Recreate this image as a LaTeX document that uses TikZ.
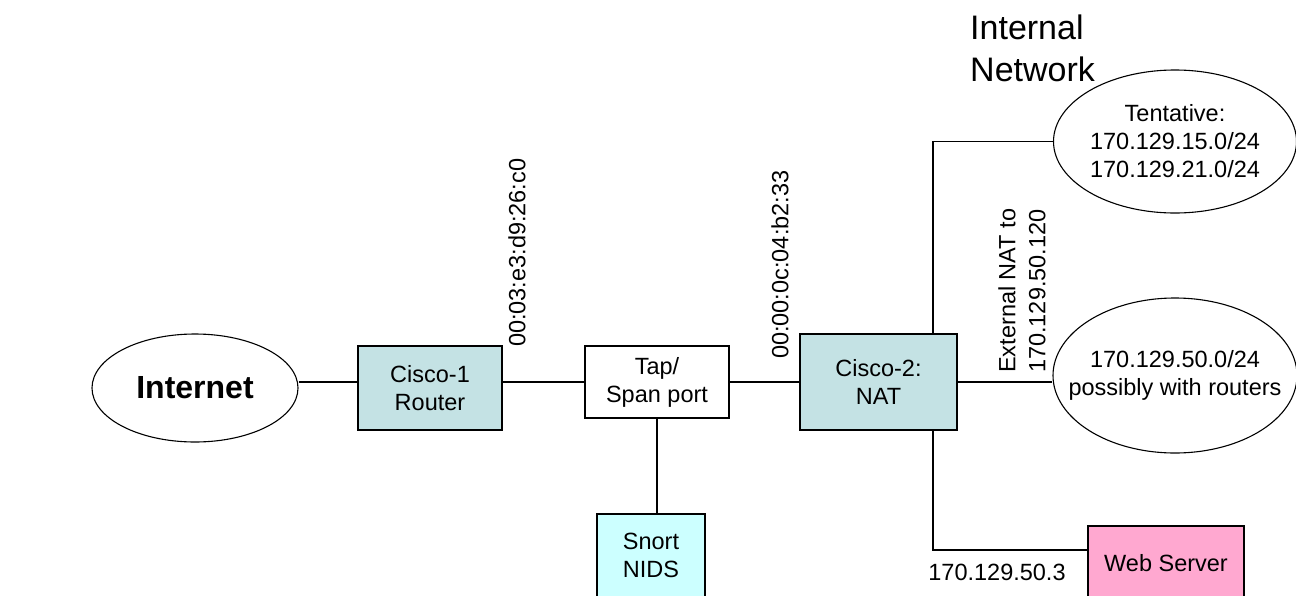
\documentclass[tikz,border=0pt]{standalone}
\usepackage{fontspec}
\setmainfont{Liberation Sans}
\usetikzlibrary{shapes.geometric}
\definecolor{ciscofill}{RGB}{196,226,228}
\definecolor{snortfill}{RGB}{204,255,255}
\definecolor{webfill}{RGB}{255,168,208}
\newcommand{\zw}[1]{\makebox[0pt]{#1}}
\tikzset{
  body/.style={font=\fontsize{23.5}{28}\selectfont},
  devbox/.style={draw=black, line width=1.5pt, rectangle, inner sep=0pt, align=center, body},
  netcloud/.style={draw=black, line width=1.1pt, ellipse, inner sep=0pt, align=center, body},
  link/.style={draw=black, line width=1.5pt},
  maclabel/.style={rotate=90, anchor=west, inner sep=0pt, body}
}
\begin{document}
\begin{tikzpicture}[x=1pt, y=-1pt]
\useasboundingbox (0,0) rectangle (1296,595);
\clip (0,0) rectangle (1296,595);
\fill[white] (0,0) rectangle (1296,595);

% nodes
\node[netcloud, minimum width=206pt, minimum height=108pt, font=\fontsize{32}{38}\selectfont\bfseries] (inet) at (195,388) {Internet};
\node[devbox, fill=ciscofill, minimum width=144pt, minimum height=84pt] (cisco1) at (430,388) {Cisco-1\\Router};
\node[devbox, fill=white, minimum width=144pt, minimum height=72pt] (tap) at (657,382) {Tap/\\Span port};
\node[devbox, fill=ciscofill, minimum width=157pt, minimum height=96pt] (cisco2) at (878.5,382) {Cisco-2:\\NAT};
\node[devbox, fill=snortfill, minimum width=108pt, minimum height=83pt] (snort) at (651,555.5) {Snort\\NIDS};
\node[devbox, fill=webfill, minimum width=156pt, minimum height=74pt] (web) at (1166,563) {Web Server};
\node[netcloud, minimum width=243pt, minimum height=143pt] (tent) at (1175,141.5) {\zw{Tentative:}\\\zw{170.129.15.0/24}\\\zw{170.129.21.0/24}};
\node[netcloud, minimum width=244pt, minimum height=155pt] (net50) at (1175,375.5) {\zw{170.129.50.0/24}\\\zw{possibly with routers}};

% labels
\node[anchor=north west, inner sep=0pt, align=left, font=\fontsize{34}{42}\selectfont] (intnet) at (970,15) {Internal\\Network};
\node[maclabel] (mac1) at (517,347) {00:03:e3:d9:26:c0};
\node[maclabel] (mac2) at (780,359) {00:00:0c:04:b2:33};
\node[maclabel, align=left, font=\fontsize{23.5}{30}\selectfont] (extnat) at (1022,373) {External NAT to\\170.129.50.120};
\node[body, inner sep=0pt] (ip3) at (997,572) {170.129.50.3};

% connectors
\draw[link] ([yshift=6pt]inet.east) -- ([yshift=6pt]cisco1.west);
\draw[link] ([yshift=6pt]cisco1.east) -- (tap.west);
\draw[link] (tap.east) -- (cisco2.west);
\draw[link] (tap.south) -- (tap.south |- snort.north);
\draw[link] (cisco2.east) -- (cisco2.east -| net50.west);
\draw[link] ([xshift=54.5pt]cisco2.north) |- (tent.west);
\draw[link] ([xshift=54.5pt]cisco2.south) |- ([yshift=13pt]web.west);
\end{tikzpicture}
\end{document}
